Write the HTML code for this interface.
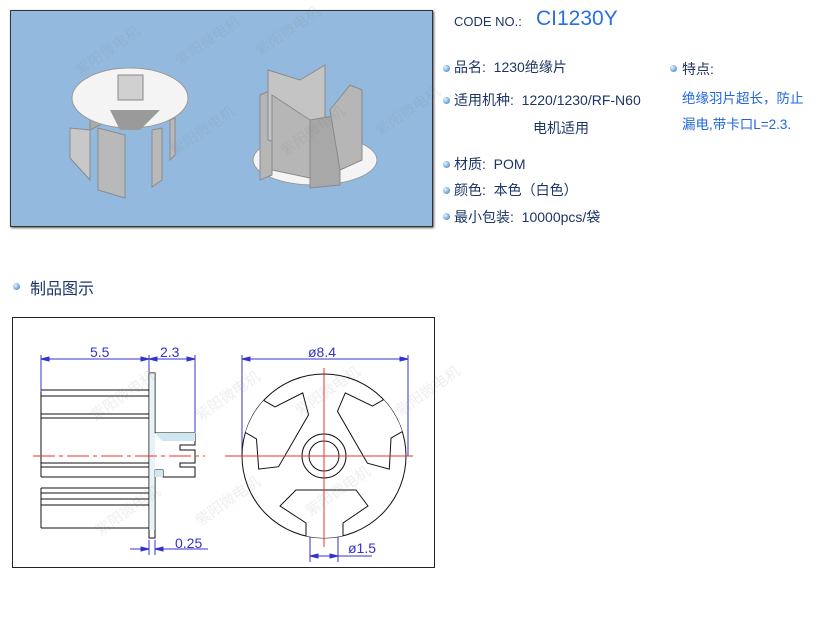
<!DOCTYPE html>
<html><head><meta charset="utf-8"><style>
body{margin:0;width:825px;height:617px;background:#fff;position:relative;overflow:hidden;font-family:"Liberation Sans","Noto Sans CJK SC",sans-serif}
.t{position:absolute;color:#1d3566;font-size:14px;white-space:nowrap}
.b{position:absolute;width:7px;height:7px;border-radius:50%;background:radial-gradient(circle at 35% 35%,#e8f4ff,#5b9bd5 70%,#3a6ea8)}
.wm{position:absolute;color:rgba(120,120,120,.13);font-size:15px;transform:rotate(-35deg);white-space:nowrap}
</style></head><body>
<div style="position:absolute;left:10px;top:10px;width:421px;height:215px;background:#93bade;border:1px solid #333;box-shadow:1px 1px 2px #555"></div>
<svg style="position:absolute;left:10px;top:10px" width="423" height="217">
<g fill="#b9b9b9" stroke="#8a8a8a">
<path d="M60 118 L60 148 L80 170 L80 120 Z" fill="#c8c8c8"/>
<path d="M88 118 L88 180 L115 188 L115 125 Z"/>
<path d="M142 120 L142 177 L152 170 L152 118 Z"/>
<path d="M160 110 L160 150 L165 145 L165 108 Z"/>
<path d="M80 80 L80 120 L100 110 L100 70 Z" fill="#aaa"/>
</g>
<ellipse cx="120" cy="88" rx="58" ry="30" fill="#f4f4f4" stroke="#999"/>
<path d="M100 100 L150 100 L130 120 L110 120 Z" fill="#9a9a9a"/>
<rect x="108" y="65" width="25" height="25" fill="#d0d0d0" stroke="#888"/>
<ellipse cx="305" cy="150" rx="62" ry="25" fill="#f4f4f4" stroke="#999"/>
<g fill="#b6b6b6" stroke="#8a8a8a">
<path d="M250 85 L262 80 L262 165 L250 170 Z"/>
<path d="M258 60 L290 70 L315 55 L315 130 L290 140 L258 130 Z" fill="#c4c4c4"/>
<path d="M262 85 L300 110 L300 168 L262 160 Z"/>
<path d="M300 110 L330 105 L330 175 L300 178 Z" fill="#a8a8a8"/>
<path d="M320 100 L340 75 L352 80 L352 150 L330 160 Z"/>
</g>
</svg>
<div class="wm" style="left:70px;top:40px">紫阳微电机</div>
<div class="wm" style="left:170px;top:30px">紫阳微电机</div>
<div class="wm" style="left:250px;top:20px">紫阳微电机</div>
<div class="wm" style="left:165px;top:120px">紫阳微电机</div>
<div class="wm" style="left:275px;top:120px">紫阳微电机</div>
<div class="wm" style="left:370px;top:100px">紫阳微电机</div>

<div class="t" style="left:454px;top:14px;font-size:13px">CODE NO.:</div>
<div class="t" style="left:536px;top:7px;font-size:21px;color:#2a6fe0">CI1230Y</div>
<div class="b" style="left:443px;top:65px"></div><div class="t" style="left:454px;top:57px">品名:&nbsp; 1230绝缘片</div>
<div class="b" style="left:443px;top:97px"></div><div class="t" style="left:454px;top:90px">适用机种:&nbsp; 1220/1230/RF-N60</div>
<div class="t" style="left:533px;top:118px">电机适用</div>
<div class="b" style="left:443px;top:161px"></div><div class="t" style="left:454px;top:154px">材质:&nbsp; POM</div>
<div class="b" style="left:443px;top:187px"></div><div class="t" style="left:454px;top:180px">颜色:&nbsp; 本色（白色）</div>
<div class="b" style="left:443px;top:213px"></div><div class="t" style="left:454px;top:207px">最小包装:&nbsp; 10000pcs/袋</div>
<div class="b" style="left:670px;top:65px"></div><div class="t" style="left:682px;top:59px">特点:</div>
<div class="t" style="left:682px;top:87px;color:#2266dd;font-size:13.5px">绝缘羽片超长，防止</div>
<div class="t" style="left:682px;top:113px;color:#2266dd;font-size:13.5px">漏电,带卡口L=2.3.</div>

<div class="b" style="left:13px;top:283px"></div><div class="t" style="left:30px;top:275px;font-size:16px">制品图示</div>

<div style="position:absolute;left:12px;top:317px;width:421px;height:249px;border:1px solid #222"></div>
<svg style="position:absolute;left:0;top:0" width="825" height="617">
<g stroke="#111" fill="none" stroke-width="1">
<path d="M41 390 H149 M41 396 H149 M41 414 H149 M41 418 H149 M41 463 H149 M41 467 H149 M41 477 H149 M41 488 H149 M41 493 H149 M41 499 H149 M41 505 H149 M41 528 H149 M41 390 V477 M41 488 V528"/>
<path d="M149 373 H155 V433 H195 V445 H180 V450 H195 V463 H180 V467 H195 V477 H163 V470 H155 V538 H149 Z"/>
</g>
<path d="M155 433 H195 V441 H162 Z M155 470 H163 V477 H155 Z" fill="#cfe7ee"/>
<path d="M149 373 H155 V530 H149 Z" fill="#cfe7ee" opacity=".5"/>
<line x1="33" y1="456" x2="205" y2="456" stroke="#e33" stroke-dasharray="22 4 4 4"/>
<g stroke="#33c" fill="#33c" stroke-width="1">
<path d="M41 355 V392 M149 355 V372 M195 355 V432 M41 359 H195 M149 540 V555 M155 540 V555 M130 549 H149 M155 549 H208"/>
<path d="M41 359 l8 -2 v4 Z M149 359 l-8 -2 v4 Z M149 359 l8 -2 v4 Z M195 359 l-8 -2 v4 Z M149 549 l-8 -2 v4 Z M155 549 l8 -2 v4 Z"/>
<path d="M242 355 V456 M408 355 V456 M242 359 H408 M310 456 V562 M338 456 V562 M310 556 H338 M338 556 H372"/>
<path d="M242 359 l8 -2 v4 Z M408 359 l-8 -2 v4 Z M310 556 l8 -2 v4 Z M338 556 l-8 -2 v4 Z"/>
</g>
<g font-family="Liberation Sans,sans-serif" font-size="14" fill="#33c">
<text x="90" y="357">5.5</text><text x="160" y="357">2.3</text><text x="175" y="548">0.25</text>
<text x="308" y="357">ø8.4</text><text x="348" y="553">ø1.5</text>
</g>
<defs><clipPath id="c"><circle cx="324" cy="456" r="82"/></clipPath></defs>
<circle cx="324" cy="456" r="82" fill="#fff" stroke="#111"/>
<g clip-path="url(#c)" fill="#fff" stroke="#111">
<g id="s"><path d="M306 545 V523 L280 506 L296 490 H356 L368 506 L343 523 V545"/></g>
<use href="#s" transform="rotate(120 324 456)"/>
<use href="#s" transform="rotate(240 324 456)"/>
</g>
<circle cx="324" cy="456" r="22" fill="none" stroke="#111"/>
<circle cx="324" cy="456" r="15" fill="none" stroke="#111"/>
<line x1="225" y1="456" x2="413" y2="456" stroke="#e33"/>
<line x1="324" y1="368" x2="324" y2="547" stroke="#e33"/>
</svg>
<div class="wm" style="left:85px;top:385px">紫阳微电机</div>
<div class="wm" style="left:190px;top:385px">紫阳微电机</div>
<div class="wm" style="left:290px;top:380px">紫阳微电机</div>
<div class="wm" style="left:90px;top:500px">紫阳微电机</div>
<div class="wm" style="left:190px;top:490px">紫阳微电机</div>
<div class="wm" style="left:300px;top:480px">紫阳微电机</div>
<div class="wm" style="left:390px;top:380px">紫阳微电机</div>
</body></html>
